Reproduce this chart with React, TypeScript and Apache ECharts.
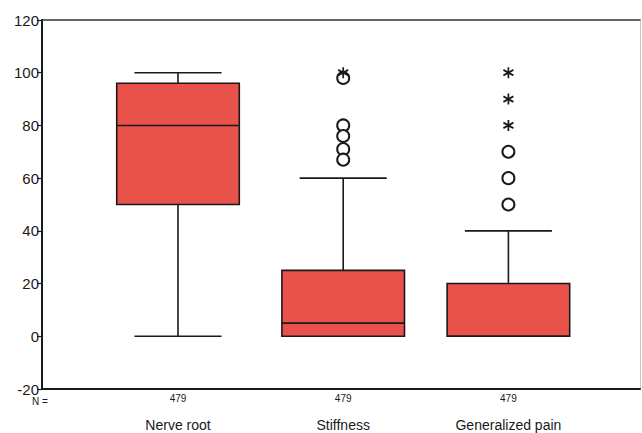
import React, { useEffect, useRef } from "react";
import * as echarts from "echarts";

const categories = ["Nerve root", "Stiffness", "Generalized pain"];
const counts = [479, 479, 479];
// [min whisker, Q1, median, Q3, max whisker]
const nerveRoot = [0, 50, 80, 96, 100];
const stiffness = [0, 0, 5, 25, 60];
const generalizedPain = [0, 0, 0, 20, 40];
const boxStats = [nerveRoot, stiffness, generalizedPain];
// outliers (circles): [category index, value]
const outlierCircles = [
  [1, 98], [1, 80], [1, 76], [1, 71], [1, 67],
  [2, 70], [2, 60], [2, 50],
];
// extremes (asterisks): [category index, value]
const extremeStars = [[1, 100], [2, 100], [2, 90], [2, 80]];
const yMin = -20;
const yMax = 120;
const yInterval = 20;

const FONT = "'Liberation Sans', Arial, sans-serif";
const BOX_FILL = "#e8524a";
const INK = "#1a1a1a";

export default function App() {
  const ref = useRef<HTMLDivElement>(null);
  useEffect(() => {
    if (!ref.current) return;
    const chart = echarts.init(ref.current, null, { renderer: "svg" });
    const boxData = boxStats.map((s, i) => [i, ...s]);
    chart.setOption({
      animation: false,
      backgroundColor: "#ffffff",
      grid: [
        { left: 42, right: 2, top: 20, bottom: 44 },
        { left: 95.4, right: 51, top: 20, bottom: 44 },
      ],
      xAxis: [
        {
          gridIndex: 0, type: "value", min: 0, max: 1,
          axisLine: { show: true, onZero: false, lineStyle: { color: INK, width: 2 } },
          axisTick: { show: false }, axisLabel: { show: false }, splitLine: { show: false },
        },
        {
          gridIndex: 1, type: "category", data: categories,
          axisLine: { show: false, onZero: false }, axisTick: { show: false }, splitLine: { show: false },
          axisLabel: {
            interval: 0,
            margin: 1,
            formatter: (v: string, i: number) => `{n|${counts[i]}}\n{c|${v}}`,
            rich: {
              n: { fontSize: 10, lineHeight: 16, color: INK, fontFamily: FONT },
              c: { fontSize: 14, lineHeight: 38, color: INK, fontFamily: FONT },
            },
          },
        },
        {
          gridIndex: 0, type: "value", min: 0, max: 1, position: "top",
          axisLine: { show: true, onZero: false, lineStyle: { color: "#333", width: 1.5 } },
          axisTick: { show: false }, axisLabel: { show: false }, splitLine: { show: false },
        },
      ],
      yAxis: [
        {
          gridIndex: 0, type: "value", min: yMin, max: yMax, interval: yInterval,
          axisLine: { show: true, onZero: false, lineStyle: { color: INK, width: 2 } },
          axisTick: { show: true, length: 5, lineStyle: { color: INK, width: 1.2 } },
          axisLabel: { fontSize: 15, color: INK, margin: 3, fontFamily: FONT },
          splitLine: { show: false },
        },
        {
          gridIndex: 1, type: "value", min: yMin, max: yMax, show: false,
        },
        {
          gridIndex: 0, type: "value", min: yMin, max: yMax, position: "right",
          axisLine: { show: true, onZero: false, lineStyle: { color: "#c8c8c8", width: 1 } },
          axisTick: { show: false }, axisLabel: { show: false }, splitLine: { show: false },
        },
      ],
      graphic: [
        {
          type: "text", left: 32, top: 396,
          style: { text: "N =", fontSize: 10, fill: INK, fontFamily: FONT },
        },
      ],
      series: [
        {
          type: "custom",
          xAxisIndex: 1, yAxisIndex: 1,
          data: boxData,
          z: 2,
          renderItem: (params: any, api: any) => {
            const c = api.value(0);
            const band = api.size([1, 0])[0];
            const bw = band * 0.742;
            const cw = band * 0.527;
            const pMin = api.coord([c, api.value(1)]);
            const pQ1 = api.coord([c, api.value(2)]);
            const pMed = api.coord([c, api.value(3)]);
            const pQ3 = api.coord([c, api.value(4)]);
            const pMax = api.coord([c, api.value(5)]);
            const cx = pQ1[0];
            const ls = { stroke: INK, lineWidth: 1.6 };
            return {
              type: "group",
              children: [
                { type: "line", shape: { x1: cx, y1: pMax[1], x2: cx, y2: pQ3[1] }, style: ls },
                { type: "line", shape: { x1: cx, y1: pQ1[1], x2: cx, y2: pMin[1] }, style: ls },
                { type: "line", shape: { x1: cx - cw / 2, y1: pMax[1], x2: cx + cw / 2, y2: pMax[1] }, style: ls },
                { type: "line", shape: { x1: cx - cw / 2, y1: pMin[1], x2: cx + cw / 2, y2: pMin[1] }, style: ls },
                {
                  type: "rect",
                  shape: { x: cx - bw / 2, y: pQ3[1], width: bw, height: pQ1[1] - pQ3[1] },
                  style: { fill: BOX_FILL, stroke: INK, lineWidth: 1.6 },
                },
                { type: "line", shape: { x1: cx - bw / 2, y1: pMed[1], x2: cx + bw / 2, y2: pMed[1] }, style: ls },
              ],
            };
          },
        },
        {
          type: "scatter",
          xAxisIndex: 1, yAxisIndex: 1,
          data: outlierCircles,
          symbol: "circle",
          symbolSize: [12, 12],
          itemStyle: { color: "#ffffff", borderColor: INK, borderWidth: 2, opacity: 1 },
          z: 3,
        },
        {
          type: "scatter",
          xAxisIndex: 1, yAxisIndex: 1,
          data: extremeStars,
          symbol: "path://M0,-5L0,5M-4.33,-2.5L4.33,2.5M-4.33,2.5L4.33,-2.5",
          symbolSize: [10, 11],
          itemStyle: { color: "rgba(0,0,0,0)", borderColor: INK, borderWidth: 1.8, opacity: 1 },
          z: 4,
        },
      ],
    });
    return () => chart.dispose();
  }, []);
  return (
    <div
      ref={ref}
      style={{ position: "fixed", left: 0, top: 0, width: 642, height: 433, background: "#fff" }}
    />
  );
}
